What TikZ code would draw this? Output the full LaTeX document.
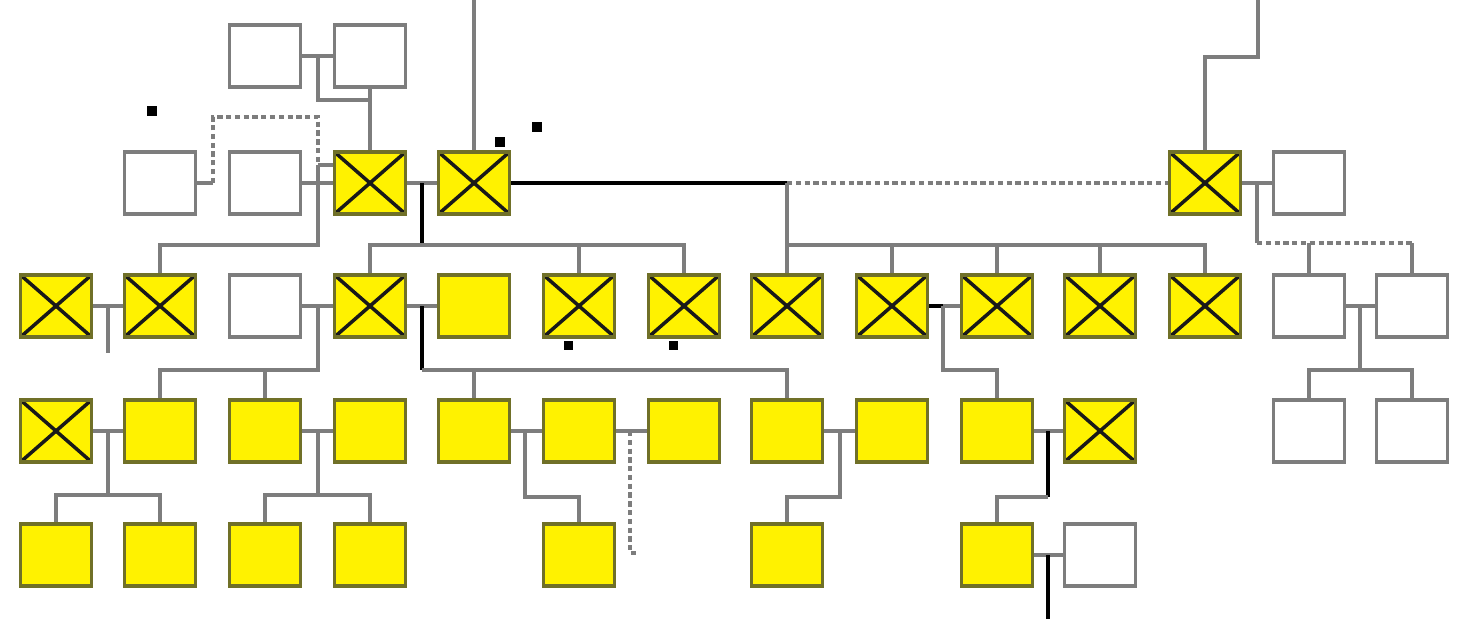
\documentclass[tikz,border=0pt]{standalone}
\usepackage{amsmath,amssymb}
\usepackage{tikz}
\definecolor{unitedge}{RGB}{112,112,40}
\definecolor{wiregray}{RGB}{125,125,125}
\begin{document}
\begin{tikzpicture}[x=0.02cm,y=-0.02cm]
\tikzstyle{every node}+=[inner sep=0pt]
\tikzstyle{unit}=[draw=unitedge, fill=yellow, line width=2.2pt, minimum width=1.42cm, minimum height=1.24cm]
\tikzstyle{unitx}=[unit, path picture={\draw[black!90, line width=2pt] (path picture bounding box.north west) -- (path picture bounding box.south east) (path picture bounding box.north east) -- (path picture bounding box.south west);}]
\tikzstyle{spare}=[draw=wiregray, fill=white, line width=2.2pt, minimum width=1.42cm, minimum height=1.24cm]
\tikzstyle{wire}=[draw=wiregray, line width=1.8pt]
\tikzstyle{dashwire}=[wire, dash pattern=on 3pt off 2pt]
\tikzstyle{bus}=[draw=black, line width=2.8pt]
\useasboundingbox (0,0) rectangle (1475,619);
\node [spare] (n0c3) at (265,56) {};
\node [spare] (n0c4) at (370,56) {};
\node [spare] (n1c2) at (160,183) {};
\node [spare] (n1c3) at (265,183) {};
\node [unitx] (n1c4) at (370,183) {};
\node [unitx] (n1c5) at (474,183) {};
\node [unitx] (n1c12) at (1205,183) {};
\node [spare] (n1c13) at (1309,183) {};
\node [unitx] (n2c1) at (56,306) {};
\node [unitx] (n2c2) at (160,306) {};
\node [spare] (n2c3) at (265,306) {};
\node [unitx] (n2c4) at (370,306) {};
\node [unit] (n2c5) at (474,306) {};
\node [unitx] (n2c6) at (579,306) {};
\node [unitx] (n2c7) at (684,306) {};
\node [unitx] (n2c8) at (787,306) {};
\node [unitx] (n2c9) at (892,306) {};
\node [unitx] (n2c10) at (997,306) {};
\node [unitx] (n2c11) at (1100,306) {};
\node [unitx] (n2c12) at (1205,306) {};
\node [spare] (n2c13) at (1309,306) {};
\node [spare] (n2c14) at (1412,306) {};
\node [unitx] (n3c1) at (56,431) {};
\node [unit] (n3c2) at (160,431) {};
\node [unit] (n3c3) at (265,431) {};
\node [unit] (n3c4) at (370,431) {};
\node [unit] (n3c5) at (474,431) {};
\node [unit] (n3c6) at (579,431) {};
\node [unit] (n3c7) at (684,431) {};
\node [unit] (n3c8) at (787,431) {};
\node [unit] (n3c9) at (892,431) {};
\node [unit] (n3c10) at (997,431) {};
\node [unitx] (n3c11) at (1100,431) {};
\node [spare] (n3c13) at (1309,431) {};
\node [spare] (n3c14) at (1412,431) {};
\node [unit] (n4c1) at (56,555) {};
\node [unit] (n4c2) at (160,555) {};
\node [unit] (n4c3) at (265,555) {};
\node [unit] (n4c4) at (370,555) {};
\node [unit] (n4c6) at (579,555) {};
\node [unit] (n4c8) at (787,555) {};
\node [unit] (n4c10) at (997,555) {};
\node [spare] (n4c11) at (1100,555) {};
\coordinate (k1) at (318,56);
\coordinate (k2) at (370,100);
\coordinate (k3) at (474,0);
\coordinate (k4) at (213,183);
\coordinate (k5) at (318,165);
\coordinate (k6) at (422,183);
\coordinate (k7) at (422,245);
\coordinate (k8) at (787,183);
\coordinate (k9) at (787,245);
\coordinate (k10) at (1258,0);
\coordinate (k11) at (1257,183);
\coordinate (k12) at (1257,243);
\draw [wire] (n0c3) -- (n0c4);
\draw [wire] (k1) |- (k2);
\draw [wire] (n0c4) -- (n1c4);
\draw [wire] (k3) -- (n1c5);
\draw [wire] (n1c2) -- (k4);
\draw [dashwire] (k4) -- (213,117) -| (k5);
\draw [wire] (k5) -- (n1c4.west |- k5);
\draw [wire] (n1c3) -- (n1c4);
\draw [wire] (k5) -- (318,245) -| (n2c2);
\draw [wire] (n1c4) -- (n1c5);
\draw [bus] (k6) -- (k7);
\draw [wire] (k7) -| (n2c4);
\draw [wire] (k7) -| (n2c6);
\draw [wire] (k7) -| (n2c7);
\draw [bus] (n1c5) -- (k8);
\draw [dashwire] (k8) -- (n1c12);
\draw [wire] (k8) -- (n2c8);
\draw [wire] (k9) -| (n2c9);
\draw [wire] (k9) -| (n2c10);
\draw [wire] (k9) -| (n2c11);
\draw [wire] (k9) -| (n2c12);
\draw [wire] (n1c12) |- (1258,57) -- (k10);
\draw [wire] (n1c12) -- (n1c13);
\draw [wire] (k11) -- (k12);
\draw [dashwire] (k12) -- (n2c14 |- k12);
\draw [wire] (n2c13 |- k12) -- (n2c13);
\draw [wire] (n2c14 |- k12) -- (n2c14);
\draw [wire] (n2c1) -- (n2c2);
\draw [wire] (108,306) -- (108,353);
\draw [wire] (n2c3) -- (n2c4);
\draw [wire] (318,306) -- (318,370) -| (n3c2);
\draw [wire] (318,370) -| (n3c3);
\draw [wire] (n2c4) -- (n2c5);
\draw [bus] (422,306) -- (422,370);
\draw [wire] (422,370) -| (n3c5);
\draw [wire] (422,370) -| (n3c8);
\draw [bus] (n2c9) -- (943,306);
\draw [wire] (943,306) -- (n2c10);
\draw [wire] (943,306) -- (943,370) -| (n3c10);
\draw [wire] (n2c13) -- (n2c14);
\draw [wire] (1360,306) -- (1360,370) -| (n3c13);
\draw [wire] (1360,370) -| (n3c14);
\draw [wire] (n3c1) -- (n3c2);
\draw [wire] (108,431) -- (108,495) -| (n4c1);
\draw [wire] (108,495) -| (n4c2);
\draw [wire] (n3c3) -- (n3c4);
\draw [wire] (318,431) -- (318,495) -| (n4c3);
\draw [wire] (318,495) -| (n4c4);
\draw [wire] (n3c5) -- (n3c6);
\draw [wire] (525,431) -- (525,497) -| (n4c6);
\draw [wire] (n3c6) -- (n3c7);
\draw [dashwire] (630,431) -- (630,553) -- (637,553);
\draw [wire] (n3c8) -- (n3c9);
\draw [wire] (840,431) -- (840,497) -| (n4c8);
\draw [wire] (n3c10) -- (n3c11);
\draw [bus] (1048,431) -- (1048,497);
\draw [wire] (1048,497) -| (n4c10);
\draw [wire] (n4c10) -- (n4c11);
\draw [bus] (1048,555) -- (1048,619);
\fill [black] (147,106) rectangle (157,116);
\fill [black] (495,137) rectangle (505,147);
\fill [black] (532,122) rectangle (542,132);
\fill [black] (564,341) rectangle (573,350);
\fill [black] (669,341) rectangle (678,350);
\end{tikzpicture}
\end{document}
